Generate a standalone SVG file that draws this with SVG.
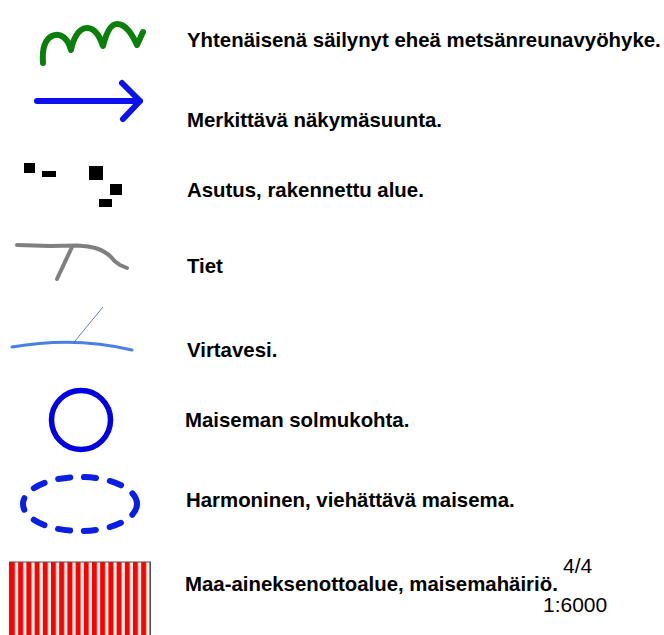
<svg xmlns="http://www.w3.org/2000/svg" width="664" height="635" viewBox="0 0 664 635">
<style>
.lbl{font-family:"Liberation Sans",Arial,sans-serif;font-weight:bold;font-size:20.4px;fill:#000}
.num{font-family:"Liberation Sans",Arial,sans-serif;font-size:21px;fill:#000}
</style>
<defs>
<pattern id="stripes" patternUnits="userSpaceOnUse" x="10" y="0" width="8.2" height="10">
<rect x="0" y="0" width="8.2" height="10" fill="#fff6f0"/>
<rect x="0" y="0" width="5" height="10" fill="#ff0000"/>
</pattern>
</defs>
<rect width="664" height="635" fill="#ffffff"/>
<g id="metsanreuna">
<path d="M43,63 C42,50 44,40 52,36 C60,32 68,38 71,50 C73,40 78,28 87,28 C96,28 100,38 103,46 C106,34 110,24 117,24 C126,24 132,34 137,45 L143,32" fill="none" stroke="#0a800a" stroke-width="6" stroke-linecap="round" stroke-linejoin="round"/>
<text class="lbl" x="187" y="47">Yhtenäisenä säilynyt eheä metsänreunavyöhyke.</text>
</g>
<g id="nakymasuunta">
<path d="M37,101 L140,101 M122,83 L140,101 L123,119" fill="none" stroke="#0a10ee" stroke-width="6" stroke-linecap="round" stroke-linejoin="round"/>
<text class="lbl" x="187" y="127">Merkittävä näkymäsuunta.</text>
</g>
<g id="asutus">
<rect x="24" y="163" width="11" height="10" fill="#000"/>
<rect x="42" y="171" width="14" height="6" fill="#000"/>
<rect x="89" y="166" width="14" height="14" fill="#000"/>
<rect x="110" y="184" width="12" height="11" fill="#000"/>
<rect x="99" y="199" width="13" height="8" fill="#000"/>
<text class="lbl" x="187" y="197">Asutus, rakennettu alue.</text>
</g>
<g id="tiet">
<path d="M17,245 L50,246 L77,245.5 C86,246 92,247 97,248.5 C104,251 108,254 111,257 C114,261 116,263 120,265 L127,268 M72,247 L57,279" fill="none" stroke="#808080" stroke-width="4" stroke-linecap="round" stroke-linejoin="round"/>
<text class="lbl" x="187" y="273">Tiet</text>
</g>
<g id="virtavesi">
<path d="M75,341 L103,307" fill="none" stroke="#6a7fb0" stroke-width="1"/>
<path d="M12,347 Q75,336 132,350" fill="none" stroke="#4a80e6" stroke-width="3" stroke-linecap="round"/>
<text class="lbl" x="187" y="357">Virtavesi.</text>
</g>
<g id="solmukohta">
<circle cx="81" cy="420" r="29.5" fill="none" stroke="#0000e6" stroke-width="5.5"/>
<text class="lbl" x="185" y="427">Maiseman solmukohta.</text>
</g>
<g id="harmoninen">
<ellipse cx="80" cy="504" rx="57" ry="27" fill="none" stroke="#0a1ee6" stroke-width="6" stroke-linecap="round" stroke-dasharray="12 14"/>
<text class="lbl" x="186" y="507">Harmoninen, viehättävä maisema.</text>
</g>
<g id="maa-ainesotto">
<rect x="9.5" y="562" width="141" height="80" fill="url(#stripes)" stroke="#505050" stroke-width="1"/>
<text class="lbl" x="185" y="591">Maa-aineksenottoalue, maisemahäiriö.</text>
</g>
<g id="sivu">
<text class="num" x="563" y="573" font-size="19.5">4/4</text>
<text class="num" x="543" y="612" font-size="21.5">1:6000</text>
</g>
<g id="connectors"/>
</svg>
